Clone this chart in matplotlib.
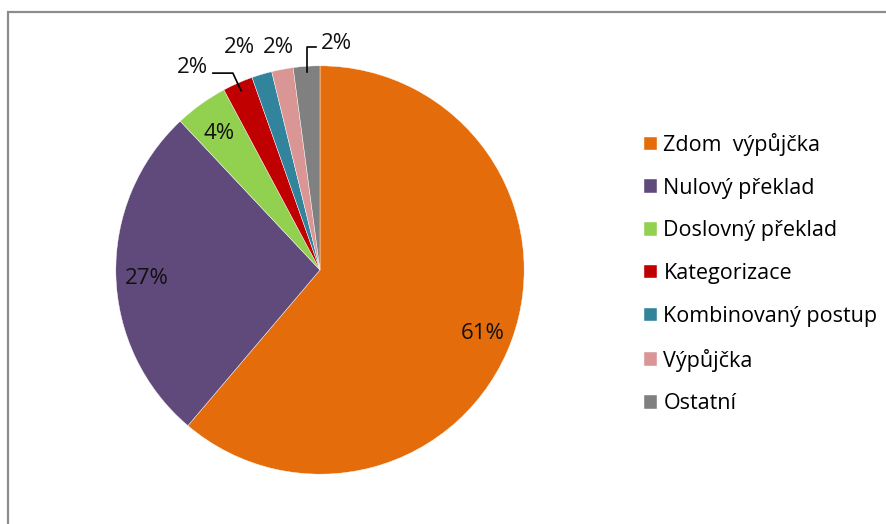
import matplotlib.pyplot as plt
import numpy as np
from matplotlib.patches import Rectangle

categories = ["Zdom  výpůjčka", "Nulový překlad", "Doslovný překlad", "Kategorizace",
              "Kombinovaný postup", "Výpůjčka", "Ostatní"]
values = [61.2, 26.8, 4.2, 2.4, 1.6, 1.7, 2.1]
colors = ["#E46C0A", "#604A7B", "#92D050", "#C00000", "#31849B", "#D99694", "#808080"]

plt.rcParams['font.family'] = ['Open Sans', 'DejaVu Sans']

fig = plt.figure(figsize=(8.86, 5.24), dpi=100)

# chart frame (grey border, cropped at right/bottom)
fig.patches.append(Rectangle((8 / 886, -0.1), 1.2, 1 - 12 / 524 + 0.1, transform=fig.transFigure,
                             fill=False, edgecolor="#8c8c8c", linewidth=1.6))

ax = fig.add_axes([75 / 886, 9 / 524, 490 / 886, 490 / 524])
wedges, texts, autotexts = ax.pie(values, colors=colors, startangle=90, counterclock=False,
                                  autopct='%.0f%%', pctdistance=0.85,
                                  wedgeprops=dict(edgecolor='white', linewidth=0.3),
                                  textprops=dict(fontsize=16, color='#111111'))
ax.set_xlim(-1.2, 1.2)
ax.set_ylim(-1.2, 1.2)
for t in autotexts:
    x, y = t.get_position()
    t.set_position((x, y - 0.02))

# small slices: labels outside
outside = {3: (1.17, 8.5), 4: (1.16, 3.4), 5: (1.11, 0.0), 6: (1.11, -8.0)}
for i, (r, dth) in outside.items():
    w = wedges[i]
    mid = (w.theta1 + w.theta2) / 2
    a = np.deg2rad(mid + dth)
    autotexts[i].set_position((r * np.cos(a), r * np.sin(a)))
    autotexts[i].set_ha('center')
    autotexts[i].set_va('center')

# leader lines
def mid_pt(i, r):
    w = wedges[i]
    a = np.deg2rad((w.theta1 + w.theta2) / 2)
    return r * np.cos(a), r * np.sin(a)

x0, y0 = mid_pt(3, 0.96)
tx, ty = autotexts[3].get_position()
ax.plot([x0, x0 - 0.04, tx + 0.1], [y0, ty - 0.025, ty - 0.025], color='black', lw=1.2)

x0, y0 = mid_pt(6, 0.97)
tx, ty = autotexts[6].get_position()
ax.plot([x0, x0, tx - 0.1], [y0, ty - 0.015, ty - 0.015], color='black', lw=1.2)

fig.legend(wedges, categories, loc='upper left', bbox_to_anchor=(644 / 886, 1 - 133 / 524),
           frameon=False, fontsize=15.5, handlelength=0.6, handleheight=0.6,
           handletextpad=0.3, labelspacing=1.01, borderpad=0, borderaxespad=0)

fig.savefig('out.png', dpi=100)
